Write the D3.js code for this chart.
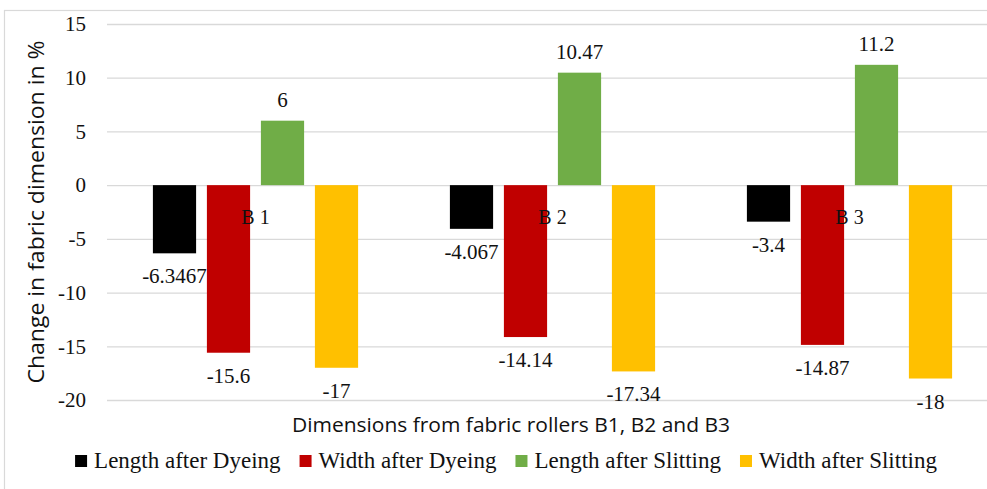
<!DOCTYPE html>
<html>
<head>
<meta charset="utf-8">
<script src="https://cdn.jsdelivr.net/npm/d3@7/dist/d3.min.js"></script>
<style>
  html, body { margin: 0; padding: 0; background: #fff; }
  svg { display: block; }
  .serif { font-family: "Liberation Serif", "Times New Roman", Times, "DejaVu Serif", serif; }
  .sans { font-family: "Open Sans", "Noto Sans", sans-serif; }
</style>
</head>
<body>
<svg id="chart" width="987" height="489"></svg>
<script>
const categories = ["B 1", "B 2", "B 3"];
const seriesNames = ["Length after Dyeing", "Width after Dyeing", "Length after Slitting", "Width after Slitting"];
const lengthAfterDyeing = [-6.3467, -4.067, -3.4];
const widthAfterDyeing = [-15.6, -14.14, -14.87];
const lengthAfterSlitting = [6, 10.47, 11.2];
const widthAfterSlitting = [-17, -17.34, -18];
const seriesColors = ["#000000", "#c00000", "#70ad47", "#ffc000"];
const yTicks = [15, 10, 5, 0, -5, -10, -15, -20];
const yTitle = "Change in fabric dimension in %";
const xTitle = "Dimensions from fabric rollers B1, B2 and B3";

const seriesValues = [lengthAfterDyeing, widthAfterDyeing, lengthAfterSlitting, widthAfterSlitting];
const rows = [];
categories.forEach((c, i) => {
  seriesNames.forEach((s, j) => rows.push({cat: c, series: s, value: seriesValues[j][i], color: seriesColors[j]}));
});

const svg = d3.select("#chart");

// frame
svg.append("rect").attr("x", 4.5).attr("y", 10.5).attr("width", 1000).attr("height", 500)
  .attr("fill", "none").attr("stroke", "#d9d9d9").attr("stroke-width", 1.2);

const plotLeft = 107, plotRight = 998, plotTop = 24, plotBottom = 400;

const y = d3.scaleLinear().domain([-20, 15]).range([plotBottom, plotTop]);
const x0 = d3.scaleBand().domain(categories).range([plotLeft, plotRight]).padding(0);
const x1 = d3.scaleBand().domain(seriesNames).range([0, x0.bandwidth()]).paddingInner(0.2).paddingOuter(0.85);

// gridlines + tick labels
const yAxis = d3.axisLeft(y).tickValues(yTicks).tickSize(-(plotRight - plotLeft)).tickPadding(21)
  .tickFormat(d => d < 0 ? "-" + Math.abs(d) : String(d));
const gAxis = svg.append("g").attr("transform", `translate(${plotLeft},0)`).call(yAxis)
  .attr("font-family", null).attr("font-size", null);
gAxis.select(".domain").remove();
gAxis.selectAll(".tick line").attr("stroke", "#d9d9d9").attr("stroke-width", 1.3);
gAxis.selectAll(".tick text").attr("class", "serif").style("font-size", "21px").attr("fill", "#111");

// bars
const g = svg.append("g");
g.selectAll("rect.bar").data(rows).join("rect").attr("class", "bar")
  .attr("x", d => x0(d.cat) + x1(d.series))
  .attr("width", x1.bandwidth())
  .attr("y", d => y(Math.max(0, d.value)))
  .attr("height", d => Math.abs(y(d.value) - y(0)))
  .attr("fill", d => d.color);

// value labels
g.selectAll("text.val").data(rows).join("text").attr("class", "val serif")
  .attr("x", d => x0(d.cat) + x1(d.series) + x1.bandwidth() / 2)
  .attr("y", d => d.value >= 0 ? y(d.value) - 14 : y(d.value) + 30)
  .attr("text-anchor", "middle")
  .style("font-size", "21px").attr("fill", "#111")
  .text(d => String(d.value));

// category labels
svg.selectAll("text.cat").data(categories).join("text").attr("class", "cat serif")
  .attr("x", d => x0(d) + x0.bandwidth() / 2)
  .attr("y", y(0) + 39)
  .attr("text-anchor", "middle")
  .style("font-size", "20px").attr("fill", "#111")
  .text(d => d);

// axis titles
svg.append("text").attr("class", "sans").attr("transform", "translate(44,212) rotate(-90)")
  .attr("text-anchor", "middle").style("font-size", "21px").attr("fill", "#111")
  .attr("textLength", 343).attr("lengthAdjust", "spacingAndGlyphs")
  .text(yTitle);
svg.append("text").attr("class", "sans").attr("x", 511).attr("y", 432)
  .attr("text-anchor", "middle").style("font-size", "20px").attr("fill", "#111")
  .attr("textLength", 438).attr("lengthAdjust", "spacingAndGlyphs")
  .text(xTitle);

// legend
const legend = svg.append("g");
const items = legend.selectAll("g").data(seriesNames).join("g");
items.append("rect").attr("width", 12).attr("height", 12).attr("y", -13)
  .attr("fill", (d, i) => seriesColors[i]);
items.append("text").attr("class", "serif").attr("x", 19).attr("y", 0)
  .style("font-size", "23px").attr("fill", "#111")
  .text(d => d);
let cx = 0;
const spacing = 19;
items.each(function() {
  const w = d3.select(this).select("text").node().getComputedTextLength();
  d3.select(this).attr("transform", `translate(${cx},0)`);
  cx += 19 + w + spacing;
});
const total = cx - spacing;
legend.attr("transform", `translate(${506 - total / 2},468)`);
</script>
</body>
</html>
